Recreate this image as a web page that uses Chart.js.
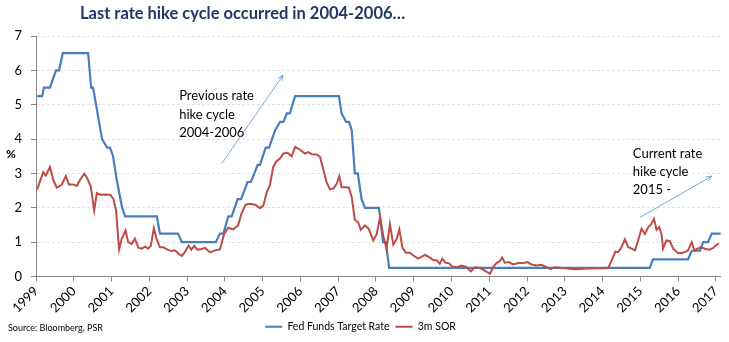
<!DOCTYPE html>
<html>
<head>
<meta charset="utf-8">
<script src="https://cdn.jsdelivr.net/npm/chart.js@4.4.1/dist/chart.umd.min.js"></script>
<style>
  html, body { margin: 0; padding: 0; background: #fff; }
  #wrap { width: 729px; height: 342px; position: relative; }
</style>
</head>
<body>
<div id="wrap"><canvas id="rateChart" width="729" height="342"></canvas></div>
<script>
// Fed Funds Target Rate (%), vertices
const fedDates = [
  1999.03, 1999.16, 1999.21, 1999.37, 1999.45, 1999.53, 1999.61, 1999.71,
  2000.38, 2000.46, 2000.51, 2000.59, 2000.75, 2000.88, 2000.96, 2001.04,
  2001.14, 2001.28, 2001.36, 2002.20, 2002.28, 2002.76, 2002.86, 2003.76,
  2003.87, 2003.96, 2004.09, 2004.18, 2004.34, 2004.43, 2004.60, 2004.69,
  2004.87, 2004.93, 2005.08, 2005.17, 2005.33, 2005.46, 2005.55, 2005.64,
  2005.72, 2005.86, 2007.02, 2007.09, 2007.21, 2007.29, 2007.36, 2007.44,
  2007.52, 2007.62, 2007.71, 2008.08, 2008.19, 2008.26, 2008.35, 2015.25,
  2015.33, 2016.26, 2016.36, 2016.58, 2016.66, 2016.79, 2016.89, 2017.13
];
const fedRates = [
  5.25, 5.25, 5.5, 5.5, 5.75, 6.0, 6.0, 6.5,
  6.5, 5.5, 5.5, 5.0, 4.0, 3.75, 3.75, 3.5,
  2.8, 2.0, 1.75, 1.75, 1.25, 1.25, 1.0, 1.0,
  1.25, 1.25, 1.75, 1.75, 2.25, 2.25, 2.75, 2.75,
  3.25, 3.25, 3.75, 3.75, 4.25, 4.5, 4.5, 4.75,
  4.75, 5.25, 5.25, 4.75, 4.5, 4.5, 4.25, 3.0,
  3.0, 2.25, 2.0, 2.0, 1.0, 1.0, 0.25, 0.25,
  0.5, 0.5, 0.75, 0.75, 1.0, 1.0, 1.25, 1.25
];

// 3m SOR (%)
const sorDates = [
  1999.03, 1999.19, 1999.26, 1999.37, 1999.46, 1999.55, 1999.68, 1999.79,
  1999.87, 1999.97, 2000.08, 2000.16, 2000.28, 2000.36, 2000.45, 2000.54,
  2000.61, 2000.69, 2000.78, 2000.96, 2001.05, 2001.12, 2001.20, 2001.27,
  2001.37, 2001.44, 2001.53, 2001.62, 2001.71, 2001.80, 2001.89, 2001.97,
  2002.04, 2002.12, 2002.19, 2002.28, 2002.37, 2002.48, 2002.59, 2002.68,
  2002.77, 2002.86, 2002.94, 2003.04, 2003.11, 2003.19, 2003.27, 2003.39,
  2003.47, 2003.61, 2003.74, 2003.87, 2003.98, 2004.09, 2004.22, 2004.35,
  2004.44, 2004.55, 2004.66, 2004.80, 2004.93, 2005.02, 2005.11, 2005.19,
  2005.28, 2005.37, 2005.46, 2005.55, 2005.66, 2005.77, 2005.86, 2005.99,
  2006.12, 2006.21, 2006.30, 2006.43, 2006.52, 2006.60, 2006.69, 2006.78,
  2006.87, 2006.96, 2007.03, 2007.09, 2007.18, 2007.28, 2007.36, 2007.44,
  2007.53, 2007.60, 2007.71, 2007.80, 2007.93, 2008.02, 2008.11, 2008.19,
  2008.28, 2008.37, 2008.46, 2008.55, 2008.62, 2008.70, 2008.79, 2008.90,
  2008.99, 2009.12, 2009.30, 2009.43, 2009.52, 2009.61, 2009.69, 2009.76,
  2009.84, 2009.93, 2010.02, 2010.14, 2010.27, 2010.40, 2010.51, 2010.62,
  2010.75, 2010.88, 2011.02, 2011.10, 2011.19, 2011.28, 2011.34, 2011.41,
  2011.52, 2011.63, 2011.77, 2011.90, 2012.01, 2012.12, 2012.25, 2012.38,
  2012.52, 2012.61, 2012.74, 2013.00, 2013.27, 2013.62, 2013.97, 2014.15,
  2014.24, 2014.34, 2014.41, 2014.50, 2014.59, 2014.68, 2014.77, 2014.86,
  2014.94, 2015.03, 2015.12, 2015.21, 2015.28, 2015.36, 2015.43, 2015.50,
  2015.56, 2015.60, 2015.69, 2015.78, 2015.87, 2016.00, 2016.13, 2016.26,
  2016.36, 2016.43, 2016.51, 2016.60, 2016.71, 2016.83, 2016.93, 2017.02,
  2017.08
];
const sorRates = [
  2.53, 3.04, 2.94, 3.19, 2.80, 2.59, 2.67, 2.92,
  2.68, 2.68, 2.64, 2.80, 2.99, 2.85, 2.62, 1.92,
  2.43, 2.38, 2.39, 2.38, 2.26, 1.92, 0.79, 1.10,
  1.34, 1.00, 0.95, 1.10, 0.84, 0.81, 0.87, 0.81,
  0.90, 1.41, 1.10, 0.85, 0.85, 0.78, 0.74, 0.76,
  0.66, 0.60, 0.71, 0.90, 0.78, 0.89, 0.78, 0.80,
  0.83, 0.70, 0.76, 0.79, 1.24, 1.42, 1.37, 1.49,
  1.83, 2.09, 2.12, 2.09, 1.99, 2.07, 2.46, 2.65,
  3.19, 3.36, 3.43, 3.58, 3.60, 3.50, 3.77, 3.69,
  3.58, 3.62, 3.56, 3.55, 3.48, 3.14, 2.75, 2.54,
  2.56, 2.70, 2.92, 2.60, 2.60, 2.59, 2.31, 1.65,
  1.57, 1.36, 1.49, 1.40, 1.05, 1.24, 1.73, 1.20,
  0.81, 1.52, 0.93, 1.10, 1.37, 0.84, 0.69, 0.69,
  0.61, 0.52, 0.63, 0.55, 0.47, 0.47, 0.37, 0.52,
  0.40, 0.39, 0.29, 0.27, 0.32, 0.27, 0.15, 0.27,
  0.25, 0.17, 0.08, 0.27, 0.39, 0.45, 0.55, 0.40,
  0.42, 0.35, 0.39, 0.39, 0.42, 0.35, 0.32, 0.34,
  0.27, 0.22, 0.27, 0.24, 0.21, 0.23, 0.24, 0.25,
  0.47, 0.73, 0.71, 0.85, 1.08, 0.85, 0.81, 0.76,
  1.05, 1.39, 1.24, 1.44, 1.51, 1.68, 1.36, 1.44,
  1.24, 0.81, 1.05, 1.03, 0.81, 0.68, 0.69, 0.76,
  1.00, 0.76, 0.81, 0.85, 0.81, 0.78, 0.83, 0.93,
  0.95
];

const titleText = "Last rate hike cycle occurred in 2004-2006…";
const sourceText = "Source: Bloomberg, PSR";
const prevNote = ["Previous rate", "hike cycle", "2004-2006"];
const currNote = ["Current rate", "hike cycle", "2015 -"];

const FONT = "Lato, 'Open Sans', sans-serif";

function drawArrow(ctx, x1, y1, x2, y2) {
  ctx.beginPath();
  ctx.moveTo(x1, y1);
  ctx.lineTo(x2, y2);
  const a = Math.atan2(y2 - y1, x2 - x1);
  const len = 6;
  ctx.moveTo(x2 - len * Math.cos(a - 0.4), y2 - len * Math.sin(a - 0.4));
  ctx.lineTo(x2, y2);
  ctx.lineTo(x2 - len * Math.cos(a + 0.4), y2 - len * Math.sin(a + 0.4));
  ctx.stroke();
}

const overlayPlugin = {
  id: "overlay",
  afterDraw(chart) {
    const { ctx } = chart;
    const x = chart.scales.x;
    const y = chart.scales.y;
    ctx.save();

    // title
    ctx.font = "bold 16.5px " + FONT;
    ctx.fillStyle = "#1F3864";
    ctx.textBaseline = "alphabetic";
    ctx.textAlign = "left";
    ctx.fillText(titleText, 80, 19);

    // unit label
    ctx.font = "bold 12px " + FONT;
    ctx.fillStyle = "#000";
    ctx.fillText("%", 6, 158);

    // notes
    ctx.font = "13px " + FONT;
    ctx.textBaseline = "middle";
    prevNote.forEach((t, i) => {
      ctx.fillText(t, x.getPixelForValue(2002.79), y.getPixelForValue(5.25) + i * 18.5);
    });
    currNote.forEach((t, i) => {
      ctx.fillText(t, x.getPixelForValue(2014.8), y.getPixelForValue(3.57) + i * 18);
    });

    // arrows
    ctx.strokeStyle = "#5B8FD0";
    ctx.lineWidth = 0.8;
    drawArrow(ctx, x.getPixelForValue(2003.92), y.getPixelForValue(3.29),
      x.getPixelForValue(2005.54), y.getPixelForValue(5.86));
    drawArrow(ctx, x.getPixelForValue(2014.99), y.getPixelForValue(1.72),
      x.getPixelForValue(2016.89), y.getPixelForValue(2.92));

    // source
    ctx.font = "9px " + FONT;
    ctx.fillStyle = "#000";
    ctx.textBaseline = "middle";
    ctx.fillText(sourceText, 8, 328);

    ctx.restore();
  }
};

const ctx = document.getElementById("rateChart").getContext("2d");
new Chart(ctx, {
  type: "line",
  data: {
    datasets: [
      {
        label: "Fed Funds Target Rate",
        data: fedDates.map((d, i) => ({ x: d, y: fedRates[i] })),
        borderColor: "#4A7EBB",
        backgroundColor: "#4A7EBB",
        borderWidth: 2.2,
        pointRadius: 0,
        tension: 0,
        order: 1
      },
      {
        label: "3m SOR",
        data: sorDates.map((d, i) => ({ x: d, y: sorRates[i] })),
        borderColor: "#BE4B48",
        backgroundColor: "#BE4B48",
        borderWidth: 2,
        pointRadius: 0,
        tension: 0,
        order: 0
      }
    ]
  },
  options: {
    responsive: false,
    animation: false,
    devicePixelRatio: 1,
    layout: { padding: { top: 36, left: 0, right: 8, bottom: 0 } },
    plugins: {
      title: { display: false },
      tooltip: { enabled: false },
      legend: {
        position: "bottom",
        labels: {
          sort: (a, b) => a.datasetIndex - b.datasetIndex,
          boxWidth: 17,
          boxHeight: 2,
          padding: 6,
          color: "#000",
          font: { family: FONT, size: 10.5 },
          generateLabels: (chart) =>
            Chart.defaults.plugins.legend.labels.generateLabels(chart).map((l) => ({ ...l, lineWidth: 0 }))
        }
      }
    },
    scales: {
      x: {
        type: "linear",
        min: 1999,
        max: 2017.13,
        afterFit: (s) => { s.height = 39; },
        ticks: {
          stepSize: 1,
          includeBounds: false,
          autoSkip: false,
          minRotation: 45,
          maxRotation: 45,
          padding: 2,
          color: "#000",
          font: { family: FONT, size: 13 },
          callback: (v) => String(v)
        },
        grid: { drawOnChartArea: false, tickLength: 5, tickColor: "#888", color: "#888" },
        border: { color: "#888" }
      },
      y: {
        min: 0,
        max: 7,
        afterFit: (s) => { s.width = 36; },
        ticks: {
          stepSize: 1,
          padding: 9,
          color: "#000",
          font: { family: FONT, size: 13 }
        },
        grid: { color: "#E3E3D6", tickLength: 5, tickColor: "#888", tickBorderDash: [] },
        border: { color: "#888", dash: [3, 2] }
      }
    }
  },
  plugins: [overlayPlugin]
});
</script>
</body>
</html>
